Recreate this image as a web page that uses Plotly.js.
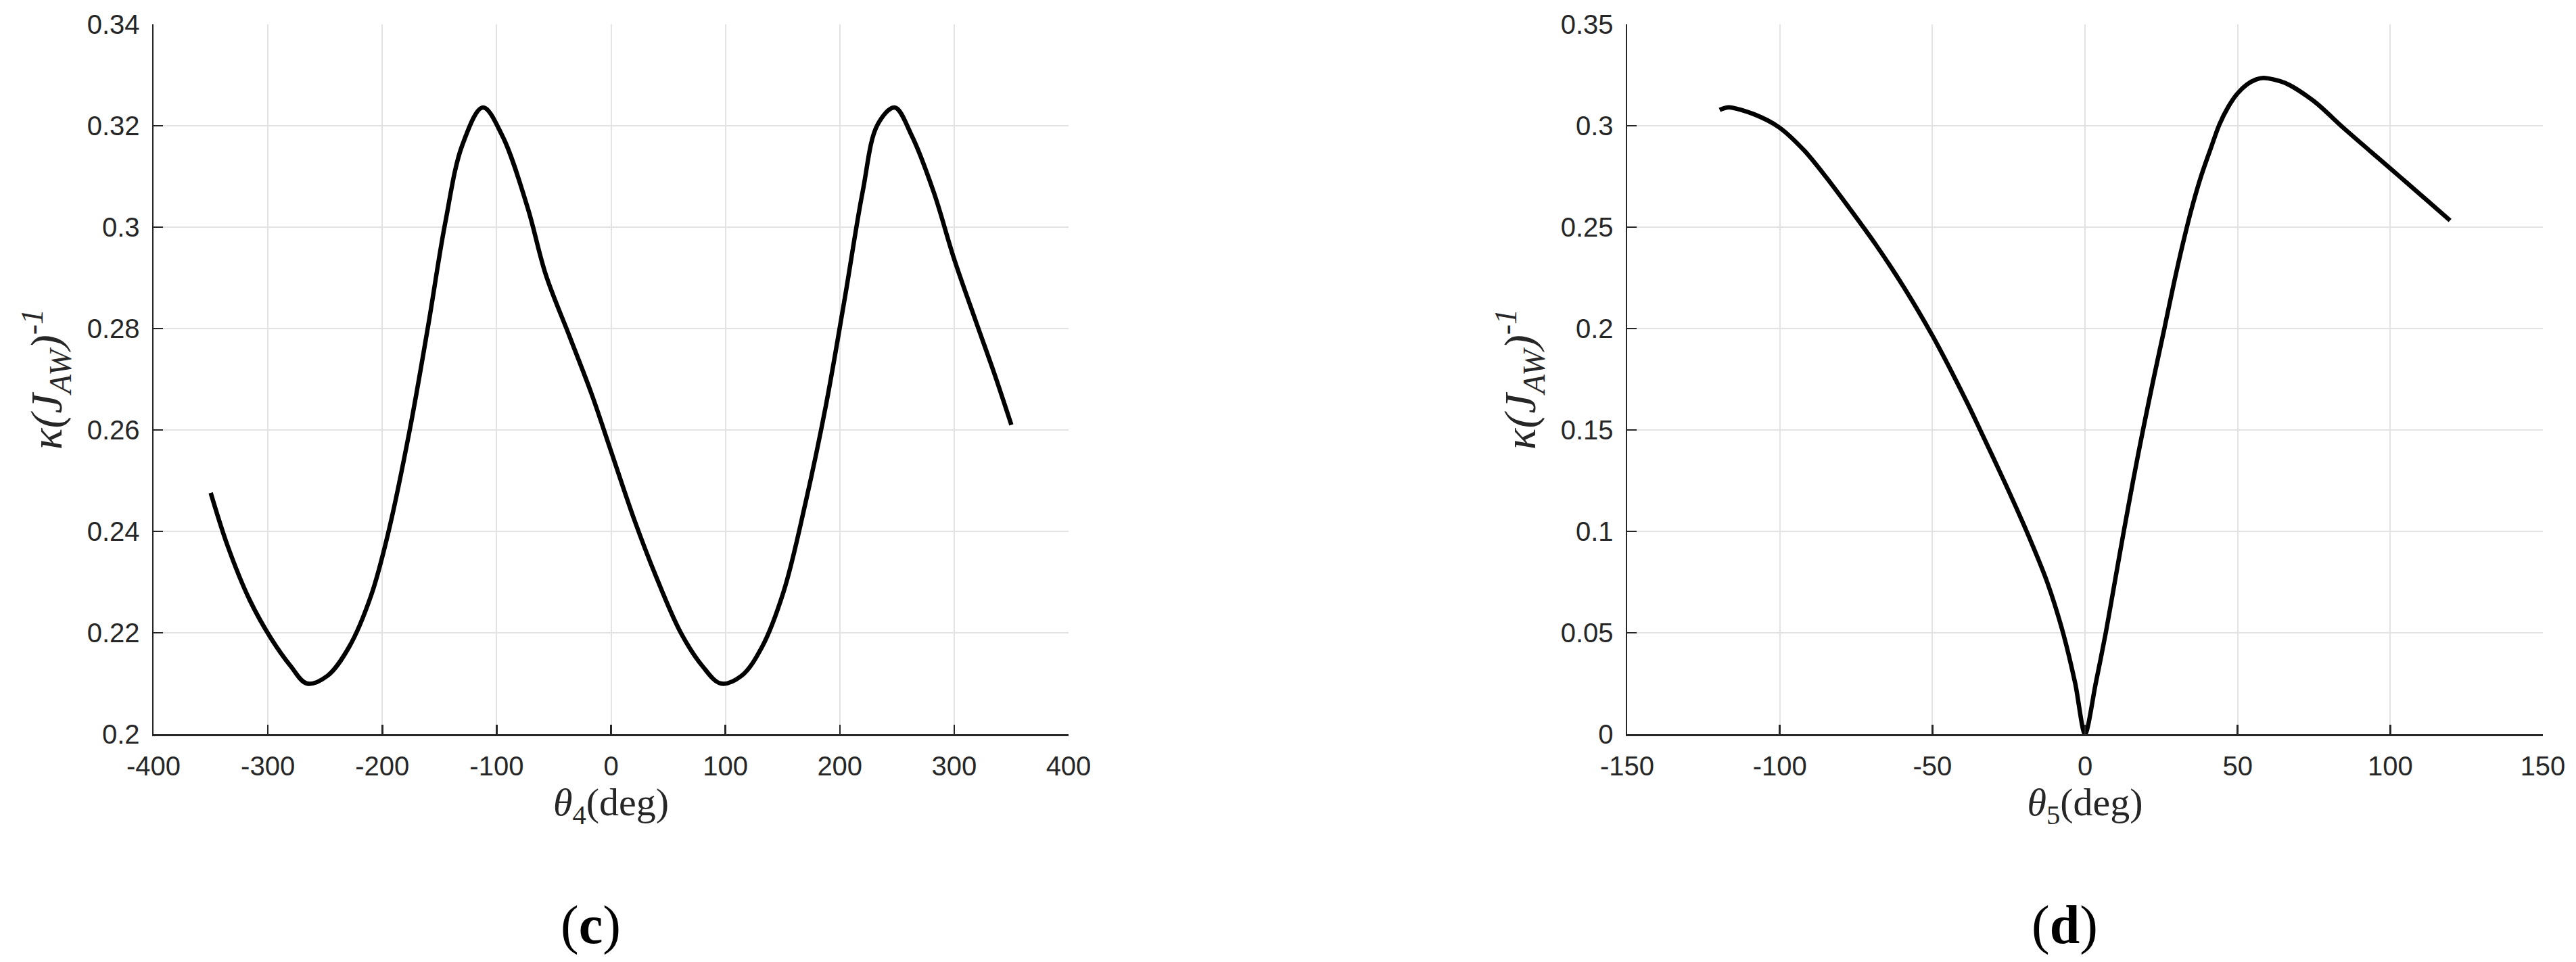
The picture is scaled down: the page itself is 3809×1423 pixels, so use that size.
<!DOCTYPE html>
<html>
<head>
<meta charset="utf-8">
<script src="https://cdn.plot.ly/plotly-3.0.1.min.js"></script>
<style>html,body{margin:0;padding:0;background:#fff;}#chart{width:3809px;height:1423px;}</style>
</head>
<body>
<div id="chart"></div>
<script>
// ---- Panel (c): kappa(J_AW)^-1 vs theta4 ----
const theta4 = [-350,-335,-316,-297,-280,-266,-248,-229,-210,-195,-176,-160,-145,-130,-112,-95,-73,-57,-36,-17,0,20,39,61,80,96,114,132,151,170,188,204,220,233,248,263,282,300,319,335,350];
const kappa4 = [0.2476,0.2370,0.2265,0.2188,0.2134,0.2100,0.2115,0.2172,0.2272,0.2395,0.2600,0.2804,0.3008,0.3162,0.3236,0.3180,0.3039,0.2906,0.2783,0.2671,0.2558,0.2425,0.2313,0.2200,0.2134,0.2100,0.2115,0.2172,0.2282,0.2456,0.2650,0.2855,0.3070,0.3202,0.3236,0.3180,0.3070,0.2937,0.2814,0.2712,0.2610];

// ---- Panel (d): kappa(J_AW)^-1 vs theta5 ----
const theta5 = [-119.7,-116.7,-108.5,-100.3,-92,-85,-78,-68.6,-59.2,-49.8,-44.5,-38.3,-34.6,-26.1,-18.7,-12.4,-7.2,-3.2,0,3.5,6.8,9.75,12.7,15.8,19.0,22.5,26,29,32,35,38,41,44,47,50,53,56,58.5,65.6,75,84.4,93.8,103.2,112.6,119.6];
const kappa5 = [0.3078,0.3091,0.3057,0.2993,0.2878,0.2750,0.2610,0.2415,0.2200,0.1960,0.1810,0.1625,0.1508,0.1235,0.0985,0.0750,0.0500,0.0250,0,0.0250,0.0500,0.0750,0.1000,0.1253,0.1500,0.1755,0.2000,0.2215,0.2415,0.2595,0.2750,0.2880,0.3005,0.3095,0.3160,0.3203,0.3228,0.3236,0.3211,0.3121,0.2993,0.2870,0.2748,0.2625,0.2533];

// ---- Tick labels ----
const xTicksC = [-400,-300,-200,-100,0,100,200,300,400];
const xTickTextC = ["-400","-300","-200","-100","0","100","200","300","400"];
const yTicksC = [0.2,0.22,0.24,0.26,0.28,0.3,0.32,0.34];
const yTickTextC = ["0.2","0.22","0.24","0.26","0.28","0.3","0.32","0.34"];
const xTicksD = [-150,-100,-50,0,50,100,150];
const xTickTextD = ["-150","-100","-50","0","50","100","150"];
const yTicksD = [0,0.05,0.1,0.15,0.2,0.25,0.3,0.35];
const yTickTextD = ["0","0.05","0.1","0.15","0.2","0.25","0.3","0.35"];

// ---- Text ----
const xTitleC = "<i>θ</i><sub>4</sub>(deg)";
const xTitleD = "<i>θ</i><sub>5</sub>(deg)";
const yTitle = "<i>κ(J</i><sub><i>AW</i></sub><i>)</i><sup><i>-1</i></sup>";
const captionC = "(<b>c</b>)";
const captionD = "(<b>d</b>)";

const W = 3809, H = 1423;
const tickFont = {family: "Liberation Sans, Arial, sans-serif", size: 40, color: "#262626"};
const xTitleFont = {family: "Liberation Serif, Times New Roman, serif", size: 58, color: "#262626"};
const yTitleFont = {family: "Liberation Serif, Times New Roman, serif", size: 66, color: "#262626"};
const lineColor = "#262626";
const gridColor = "#e3e3e3";

function xAxis(domain, range, tv, tt, title, anchor) {
  return {
    domain: domain, range: range, anchor: anchor,
    tickmode: "array", tickvals: tv, ticktext: tt,
    ticks: "inside", ticklen: 14, tickwidth: 2.5, tickcolor: lineColor,
    showline: true, linewidth: 2.5, linecolor: lineColor, mirror: false,
    showgrid: true, gridcolor: gridColor, gridwidth: 2,
    zeroline: false, tickfont: tickFont, ticklabelstandoff: 10,
    title: {text: title, font: xTitleFont, standoff: 6},
    automargin: false, fixedrange: true
  };
}
function yAxis(domain, range, tv, tt, title, anchor) {
  return {
    domain: domain, range: range, anchor: anchor,
    tickmode: "array", tickvals: tv, ticktext: tt,
    ticks: "inside", ticklen: 14, tickwidth: 2.5, tickcolor: lineColor,
    showline: true, linewidth: 2.5, linecolor: lineColor, mirror: false,
    showgrid: true, gridcolor: gridColor, gridwidth: 2,
    zeroline: false, tickfont: tickFont, ticklabelstandoff: 10,
    title: {text: title, font: yTitleFont, standoff: 16},
    automargin: false, fixedrange: true
  };
}

const yDom = [1 - 1086/H, 1 - 36/H];
const data = [
  {x: theta4, y: kappa4, xaxis: "x", yaxis: "y", type: "scatter", mode: "lines",
   line: {color: "#000", width: 6.5, shape: "spline", smoothing: 1}, hoverinfo: "skip"},
  {x: theta5, y: kappa5, xaxis: "x2", yaxis: "y2", type: "scatter", mode: "lines",
   line: {color: "#000", width: 6.5, shape: "spline", smoothing: 0.8}, hoverinfo: "skip"}
];

const layout = {
  width: W, height: H,
  margin: {l: 0, r: 0, t: 0, b: 0, pad: 0},
  paper_bgcolor: "#fff", plot_bgcolor: "#fff",
  showlegend: false,
  xaxis: xAxis([227/W, 1580/W], [-400, 400], xTicksC, xTickTextC, xTitleC, "y"),
  yaxis: yAxis(yDom, [0.2, 0.34], yTicksC, yTickTextC, yTitle, "x"),
  xaxis2: xAxis([2406/W, 3760/W], [-150, 150], xTicksD, xTickTextD, xTitleD, "y2"),
  yaxis2: yAxis(yDom, [0, 0.35], yTicksD, yTickTextD, yTitle, "x2"),
  annotations: [
    {text: captionC, xref: "paper", yref: "paper", x: 873/W, y: 1 - 1368/H,
     xanchor: "center", yanchor: "middle", showarrow: false,
     font: {family: "Liberation Serif, Times New Roman, serif", size: 80, color: "#000"}},
    {text: captionD, xref: "paper", yref: "paper", x: 3053/W, y: 1 - 1368/H,
     xanchor: "center", yanchor: "middle", showarrow: false,
     font: {family: "Liberation Serif, Times New Roman, serif", size: 80, color: "#000"}}
  ]
};

Plotly.newPlot("chart", data, layout, {displayModeBar: false, staticPlot: true});
</script>
</body>
</html>
